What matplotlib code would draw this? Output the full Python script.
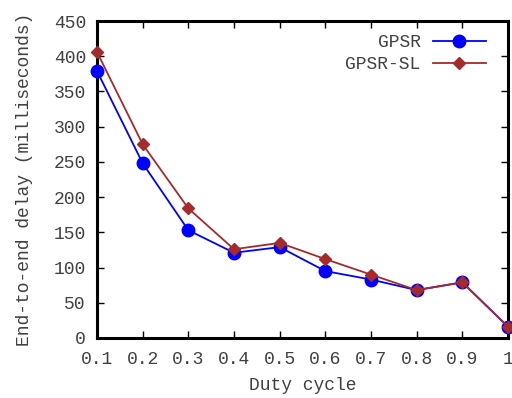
import matplotlib
matplotlib.use('Agg')
import matplotlib.pyplot as plt

duty = [0.1, 0.2, 0.3, 0.4, 0.5, 0.6, 0.7, 0.8, 0.9, 1.0]
gpsr = [379, 248, 153, 121, 129, 95, 83, 68, 79, 16]
gpsr_sl = [406, 275, 184, 126, 135, 112, 90, 68, 79, 16]

plt.rcParams['font.family'] = 'Liberation Mono'
plt.rcParams['font.size'] = 13
txt = '#404040'

fig = plt.figure(figsize=(5.12, 3.98), dpi=100)
ax = fig.add_axes([97/512, 1-338/398, 411/512, 317/398])

ax.plot(duty, gpsr, color='#0000ff', lw=1.3, marker='o', ms=9, label='GPSR', clip_on=False, zorder=3)
ax.plot(duty, gpsr_sl, color='#a52a2a', lw=1.3, marker='D', ms=6.5, label='GPSR-SL', clip_on=False, zorder=4)

ax.set_xlim(0.1, 1.0)
ax.set_ylim(0, 450)
ax.set_xticks(duty)
ax.set_xticklabels(['0.1', '0.2', '0.3', '0.4', '0.5', '0.6', '0.7', '0.8', '0.9', '1'])
ax.set_yticks(range(0, 451, 50))
ax.tick_params(direction='in', top=True, right=True, length=5, width=1, colors='black', labelcolor=txt)
ax.tick_params(axis='x', pad=9)
ax.tick_params(axis='y', pad=8)
for s in ax.spines.values():
    s.set_linewidth(2.2)

ax.set_xlabel('Duty cycle', color=txt, labelpad=7)
ax.set_ylabel('End-to-end delay (milliseconds)', color=txt, labelpad=15)

leg = ax.legend(loc='upper right', frameon=False, markerfirst=False, handlelength=2.9,
                handletextpad=0.7, bbox_to_anchor=(0.985, 1.01), labelspacing=0.3)
for t in leg.get_texts():
    t.set_color(txt)

fig.savefig('out.png', dpi=100)
